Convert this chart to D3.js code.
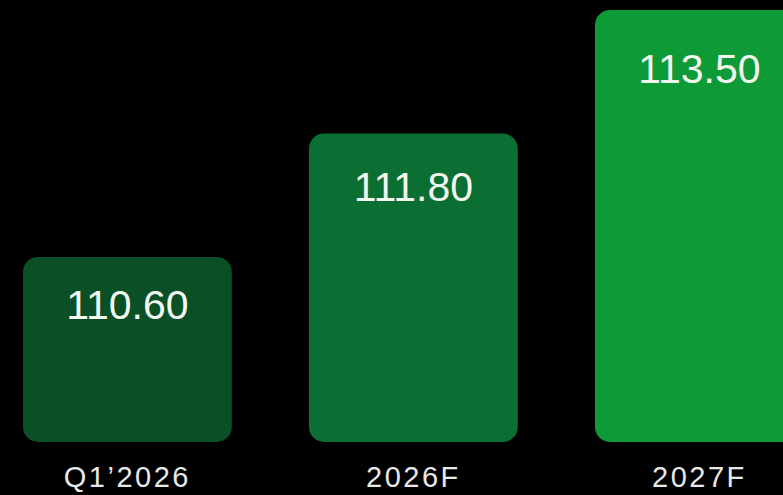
<!DOCTYPE html>
<html>
<head>
<meta charset="utf-8">
<script src="https://cdn.jsdelivr.net/npm/d3@7/dist/d3.min.js"></script>
<style>
  html, body { margin: 0; padding: 0; background: #000; }
  svg { display: block; }
</style>
</head>
<body>
<div id="chart"></div>
<script>
// Periods and their values
const categories = ["Q1\u20192026", "2026F", "2027F"];
const values = [110.60, 111.80, 113.50];
const valueLabels = ["110.60", "111.80", "113.50"];
const barColors = ["#0b4f27", "#0b6f33", "#0e9a37"];

const width = 783, height = 495;
const baseline = 442;

const svg = d3.select("#chart").append("svg")
  .attr("width", width)
  .attr("height", height)
  .style("background", "#000");

// Horizontal placement of the bars
const x = d3.scaleBand()
  .domain(categories)
  .range([-15.6, 842.4])
  .paddingInner(0.27)
  .paddingOuter(0.135);

// Vertical scale: log of the value above a floor, to emphasise growth steps
const floor = 107.7;
const y = d3.scaleLog()
  .domain([109.425 - floor, 113.5 - floor])
  .range([baseline, 10]);

const data = categories.map((c, i) => ({
  cat: c, value: values[i], label: valueLabels[i], color: barColors[i]
}));

const g = svg.append("g");

g.selectAll("rect.bar")
  .data(data)
  .join("rect")
  .attr("class", "bar")
  .attr("x", d => x(d.cat))
  .attr("y", d => y(d.value - floor))
  .attr("width", x.bandwidth())
  .attr("height", d => baseline - y(d.value - floor))
  .attr("rx", 15)
  .attr("ry", 15)
  .attr("fill", d => d.color);

// Value labels inside the top of each bar
g.selectAll("text.value")
  .data(data)
  .join("text")
  .attr("class", "value")
  .attr("x", d => x(d.cat) + x.bandwidth() / 2)
  .attr("y", d => {
    const top = y(d.value - floor);
    return top + 53 + 0.047 * (baseline - top);
  })
  .attr("text-anchor", "middle")
  .attr("font-family", "Liberation Sans, Arial, sans-serif")
  .attr("font-size", 41)
  .attr("fill", "#f2f7f0")
  .text(d => d.label);

// Category labels under the bars
g.selectAll("text.cat")
  .data(data)
  .join("text")
  .attr("class", "cat")
  .attr("x", d => x(d.cat) + x.bandwidth() / 2)
  .attr("y", 487)
  .attr("text-anchor", "middle")
  .attr("font-family", "Liberation Sans, Arial, sans-serif")
  .attr("font-size", 29)
  .attr("letter-spacing", 2.5)
  .attr("fill", "#e8e8e8")
  .text(d => d.cat);
</script>
</body>
</html>
